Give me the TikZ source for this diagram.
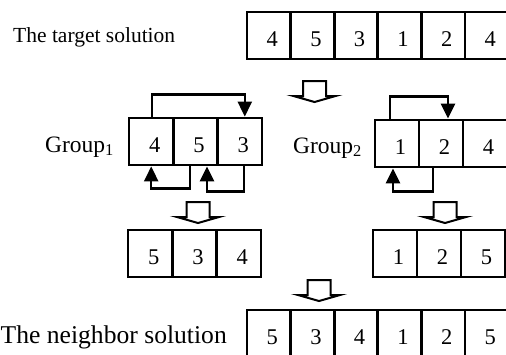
\documentclass[tikz,border=0pt]{standalone}
\usepackage{fontspec}
\setmainfont{Liberation Serif}
\usetikzlibrary{arrows.meta}
\begin{document}
\begin{tikzpicture}[x=1pt,y=-1pt,
  cell/.style={draw, line width=2.8pt, minimum height=47pt, inner sep=0pt,
    text height=21pt, text depth=0pt, font=\fontsize{22.5}{22.5}\selectfont},
  wa/.style={cell, minimum width=43.6pt},
  wb/.style={cell, minimum width=44.3pt},
  wc/.style={cell, minimum width=44pt},
  lbl/.style={inner sep=0pt},
  conn/.style={line width=2.4pt, -{Triangle[width=14pt,length=15pt]}},
  hollow/.pic={\draw[line width=2pt, line join=miter]
    (-11.5,0) -- (-11.5,15) -- (-21,15) -- (0,21) -- (21,15) -- (11.5,15) -- (11.5,0) -- cycle;}
]
\useasboundingbox (0,0) rectangle (506,354);

% labels
\node[lbl, anchor=base west, font=\fontsize{21.5}{21.5}\selectfont] (tlab) at (13,42) {The target solution};
\node[lbl, anchor=base west, font=\fontsize{23.5}{23.5}\selectfont] (g1lab) at (45,152) {Group\textsubscript{1}};
\node[lbl, anchor=base west, font=\fontsize{23.5}{23.5}\selectfont] (g2lab) at (293,153) {Group\textsubscript{2}};
\node[lbl, anchor=base west, font=\fontsize{25.6}{25.6}\selectfont] (nlab) at (0.5,343) {The neighbor solution};

% target solution
\node[wa] (t1) at (268.8,35.5) {\hspace*{7pt}4};
\node[wa] (t2) at (312.4,35.5) {\hspace*{7pt}5};
\node[wa] (t3) at (356.0,35.5) {\hspace*{7pt}3};
\node[wa] (t4) at (399.6,35.5) {\hspace*{7pt}1};
\node[wa] (t5) at (443.2,35.5) {\hspace*{7pt}2};
\node[wa] (t6) at (486.8,35.5) {\hspace*{7pt}4};

% group 1
\node[wb] (g1a) at (151.2,141.5) {\hspace*{7pt}4};
\node[wb] (g1b) at (195.5,141.5) {\hspace*{7pt}5};
\node[wb] (g1c) at (239.8,141.5) {\hspace*{7pt}3};

% group 2
\node[wc] (g2a) at (397,143.5) {\hspace*{7pt}1};
\node[wc] (g2b) at (441,143.5) {\hspace*{7pt}2};
\node[wc] (g2c) at (485,143.5) {\hspace*{7pt}4};

% result of group 1
\node[wb] (r1a) at (150.2,253.5) {\hspace*{7pt}5};
\node[wb] (r1b) at (194.5,253.5) {\hspace*{7pt}3};
\node[wb] (r1c) at (238.8,253.5) {\hspace*{7pt}4};

% result of group 2
\node[wc] (r2a) at (395,253.5) {\hspace*{7pt}1};
\node[wc] (r2b) at (439,253.5) {\hspace*{7pt}2};
\node[wc] (r2c) at (483,253.5) {\hspace*{7pt}5};

% neighbor solution
\node[wa] (n1) at (268.8,333.5) {\hspace*{7pt}5};
\node[wa] (n2) at (312.4,333.5) {\hspace*{7pt}3};
\node[wa] (n3) at (356.0,333.5) {\hspace*{7pt}4};
\node[wa] (n4) at (399.6,333.5) {\hspace*{7pt}1};
\node[wa] (n5) at (443.2,333.5) {\hspace*{7pt}2};
\node[wa] (n6) at (486.8,333.5) {\hspace*{7pt}5};

% swap arrows group 1
\draw[conn] ([xshift=1pt]g1a.north) -- ++(0,-22) -| ([xshift=5pt]g1c.north);
\draw[conn] ([xshift=-5.5pt]g1b.south) -- ++(0,22) -| (g1a.south);
\draw[conn] ([xshift=4pt]g1c.south) -- ++(0,25) -| ([xshift=11.5pt]g1b.south);

% swap arrows group 2
\draw[conn] ([xshift=-7pt]g2a.north) -- ++(0,-22) -| ([xshift=7pt]g2b.north);
\draw[conn] ([xshift=-8pt]g2b.south) -- ++(0,23) -| ([xshift=-4pt]g2a.south);

% hollow arrows
\pic at (314.5,81) {hollow};
\pic at (198,202) {hollow};
\pic at (445,202) {hollow};
\pic at (319,280) {hollow};
\end{tikzpicture}
\end{document}
